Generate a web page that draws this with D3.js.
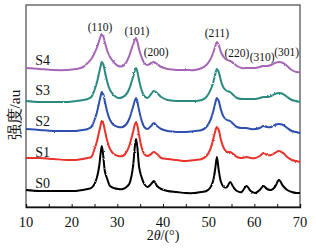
<!DOCTYPE html>
<html>
<head>
<meta charset="utf-8">
<script src="https://cdn.jsdelivr.net/npm/d3@7"></script>
<style>
  body { margin: 0; background: #fff; }
  text { font-family: "Liberation Serif", "DejaVu Serif", serif; fill: #111; }
</style>
</head>
<body>
<svg></svg>
<script>
const [width, height] = [316, 252];
const margin = { left: 26, right: 16, top: 5, bottom: 45 };

// 2θ sample positions (°), shared by every pattern
const twoTheta = [10, 13, 16, 19, 21, 22.5, 23.5, 24.3, 25, 25.5,
  26, 26.3, 26.6, 26.9, 27.3, 27.8, 28.4, 29.2, 30.2, 31.2,
  32, 32.6, 33.1, 33.5, 33.8, 34.1, 34.4, 34.8, 35.3, 35.9,
  36.6, 37.4, 38, 38.7, 39.6, 41, 43, 45, 47, 48.5,
  49.5, 50.3, 50.9, 51.4, 51.8, 52.2, 52.7, 53.3, 54, 54.7,
  55.4, 56.2, 57.2, 58.3, 59.2, 60.2, 61.2, 62, 62.8, 63.7,
  64.5, 65.4, 66.3, 67.2, 68.2, 69.2, 70];

// intensities (au, stacked as in the figure)
const s0 = [17, 16, 16, 16, 16, 17, 18, 19, 23, 29,
  40, 52, 61, 52, 35, 28, 21, 19, 18, 18,
  20, 23, 31, 43, 59, 68, 59, 39, 30, 23,
  20, 23, 26, 21, 18, 16, 15, 14, 14, 15,
  16, 19, 25, 37, 50, 37, 25, 20, 20, 25,
  20, 16, 15, 21, 16, 14, 17, 21, 18, 17,
  20, 27, 21, 17, 15, 14, 14];
const s1 = [49, 49, 48, 47, 47, 48, 49, 50, 58, 65,
  75, 81, 86, 84, 76, 66, 58, 53, 51, 51,
  55, 61, 69, 76, 82, 85, 81, 71, 60, 53,
  51, 53, 55, 53, 49, 48, 47, 46, 47, 48,
  51, 57, 66, 75, 80, 77, 67, 59, 55, 55,
  53, 50, 49, 50, 49, 49, 51, 54, 52, 52,
  54, 56, 54, 50, 47, 46, 45];
const s2 = [78, 77, 76, 76, 76, 77, 78, 80, 87, 94,
  104, 110, 115, 113, 105, 95, 87, 82, 80, 80,
  83, 88, 95, 101, 106, 109, 105, 96, 87, 80,
  78, 81, 84, 81, 78, 76, 75, 75, 76, 77,
  80, 86, 94, 103, 109, 106, 97, 90, 87, 86,
  83, 80, 79, 79, 78, 78, 79, 81, 80, 80,
  82, 83, 82, 79, 76, 75, 74];
const s3 = [106, 105, 105, 105, 106, 107, 108, 110, 117, 124,
  134, 140, 145, 143, 135, 125, 117, 112, 109, 110,
  113, 118, 125, 131, 136, 139, 135, 126, 117, 111,
  109, 113, 116, 114, 110, 107, 106, 106, 106, 107,
  110, 116, 123, 132, 138, 135, 126, 119, 116, 115,
  112, 109, 108, 108, 108, 108, 109, 110, 110, 111,
  113, 114, 113, 110, 107, 106, 105];
const s4 = [139, 138, 137, 137, 138, 140, 144, 148, 154, 159,
  166, 170, 173, 171, 164, 156, 150, 145, 141, 141,
  145, 151, 158, 163, 167, 169, 165, 157, 150, 144,
  142, 144, 145, 143, 140, 138, 137, 137, 137, 139,
  142, 147, 153, 160, 165, 162, 155, 150, 147, 146,
  144, 141, 139, 139, 139, 139, 140, 141, 141, 142,
  144, 145, 144, 141, 137, 135, 135];

const seriesNames = ['S0', 'S1', 'S2', 'S3', 'S4'];
const seriesValues = [s0, s1, s2, s3, s4];
const seriesColors = ['#000000', '#e8322c', '#2d4fae', '#2a8a80', '#a566b6'];
const labelLevels = [19, 50, 81, 112, 142];

const peakLabels = ['(110)', '(101)', '(200)', '(211)', '(220)', '(310)', '(301)'];
const peakAt = [26.2, 34.3, 38.5, 51.8, 56.2, 61.7, 67.1];
const peakLevel = [176, 172, 151, 170, 150, 146, 151];

const xTicks = [10, 20, 30, 40, 50, 60, 70];

const svg = d3.select('svg').attr('width', width).attr('height', height);

// slight roughness, like a noisy diffractometer trace
const rough = svg.append('defs').append('filter').attr('id', 'rough')
  .attr('x', '-5%').attr('y', '-5%').attr('width', '110%').attr('height', '110%');
rough.append('feTurbulence').attr('type', 'fractalNoise').attr('baseFrequency', 0.9)
  .attr('numOctaves', 1).attr('seed', 3).attr('result', 'noise');
rough.append('feDisplacementMap').attr('in', 'SourceGraphic').attr('in2', 'noise')
  .attr('scale', 2.2).attr('xChannelSelector', 'R').attr('yChannelSelector', 'G');

const x = d3.scaleLinear().domain([10, 70]).range([margin.left, width - margin.right]);
const y = d3.scaleLinear().domain([0, 202]).range([height - margin.bottom, margin.top]);

// frame
svg.append('rect')
  .attr('x', x(10)).attr('y', y(202))
  .attr('width', x(70) - x(10)).attr('height', y(0) - y(202))
  .attr('fill', 'none').attr('stroke', '#555').attr('stroke-width', 1.3);

// bottom axis, ticks inward
const xAxis = svg.append('g')
  .attr('transform', `translate(0, ${y(0)})`)
  .call(d3.axisBottom(x).tickValues(d3.range(10, 71, 5)).tickSize(-3).tickFormat(''));
xAxis.select('.domain').attr('stroke', '#111').attr('stroke-width', 1.3);
xAxis.selectAll('.tick line').attr('stroke', '#111');

svg.append('g').selectAll('text')
  .data(xTicks)
  .join('text')
  .attr('x', d => x(d))
  .attr('y', y(0) + 20)
  .attr('text-anchor', 'middle')
  .style('font-size', '14.5px')
  .text(d => d);

const xTitle = svg.append('text')
  .attr('x', x(40))
  .attr('y', y(0) + 33)
  .attr('text-anchor', 'middle')
  .style('font-size', '14px');
xTitle.append('tspan').text('2');
xTitle.append('tspan').style('font-style', 'italic').text('θ');
xTitle.append('tspan').text('/(°)');

svg.append('text')
  .attr('transform', `translate(20, ${y(92)}) rotate(-90)`)
  .attr('text-anchor', 'middle')
  .style('font-size', '15.5px')
  .text('强度/au');

// patterns
const line = d3.line()
  .x((d, i) => x(twoTheta[i]))
  .y(d => y(d))
  .curve(d3.curveCatmullRom.alpha(0.5));

svg.append('g')
  .attr('filter', 'url(#rough)')
  .selectAll('path')
  .data(seriesValues)
  .join('path')
  .attr('d', line)
  .attr('fill', 'none')
  .attr('stroke', (d, i) => seriesColors[i])
  .attr('stroke-width', 2)
  .attr('stroke-linejoin', 'round');

svg.append('g').selectAll('text')
  .data(seriesNames)
  .join('text')
  .attr('x', x(12))
  .attr('y', (d, i) => y(labelLevels[i]))
  .style('font-size', '14px')
  .text(d => d);

svg.append('g').selectAll('text')
  .data(peakLabels)
  .join('text')
  .attr('x', (d, i) => x(peakAt[i]))
  .attr('y', (d, i) => y(peakLevel[i]))
  .attr('text-anchor', 'middle')
  .style('font-size', '11.5px')
  .text(d => d);
</script>
</body>
</html>
